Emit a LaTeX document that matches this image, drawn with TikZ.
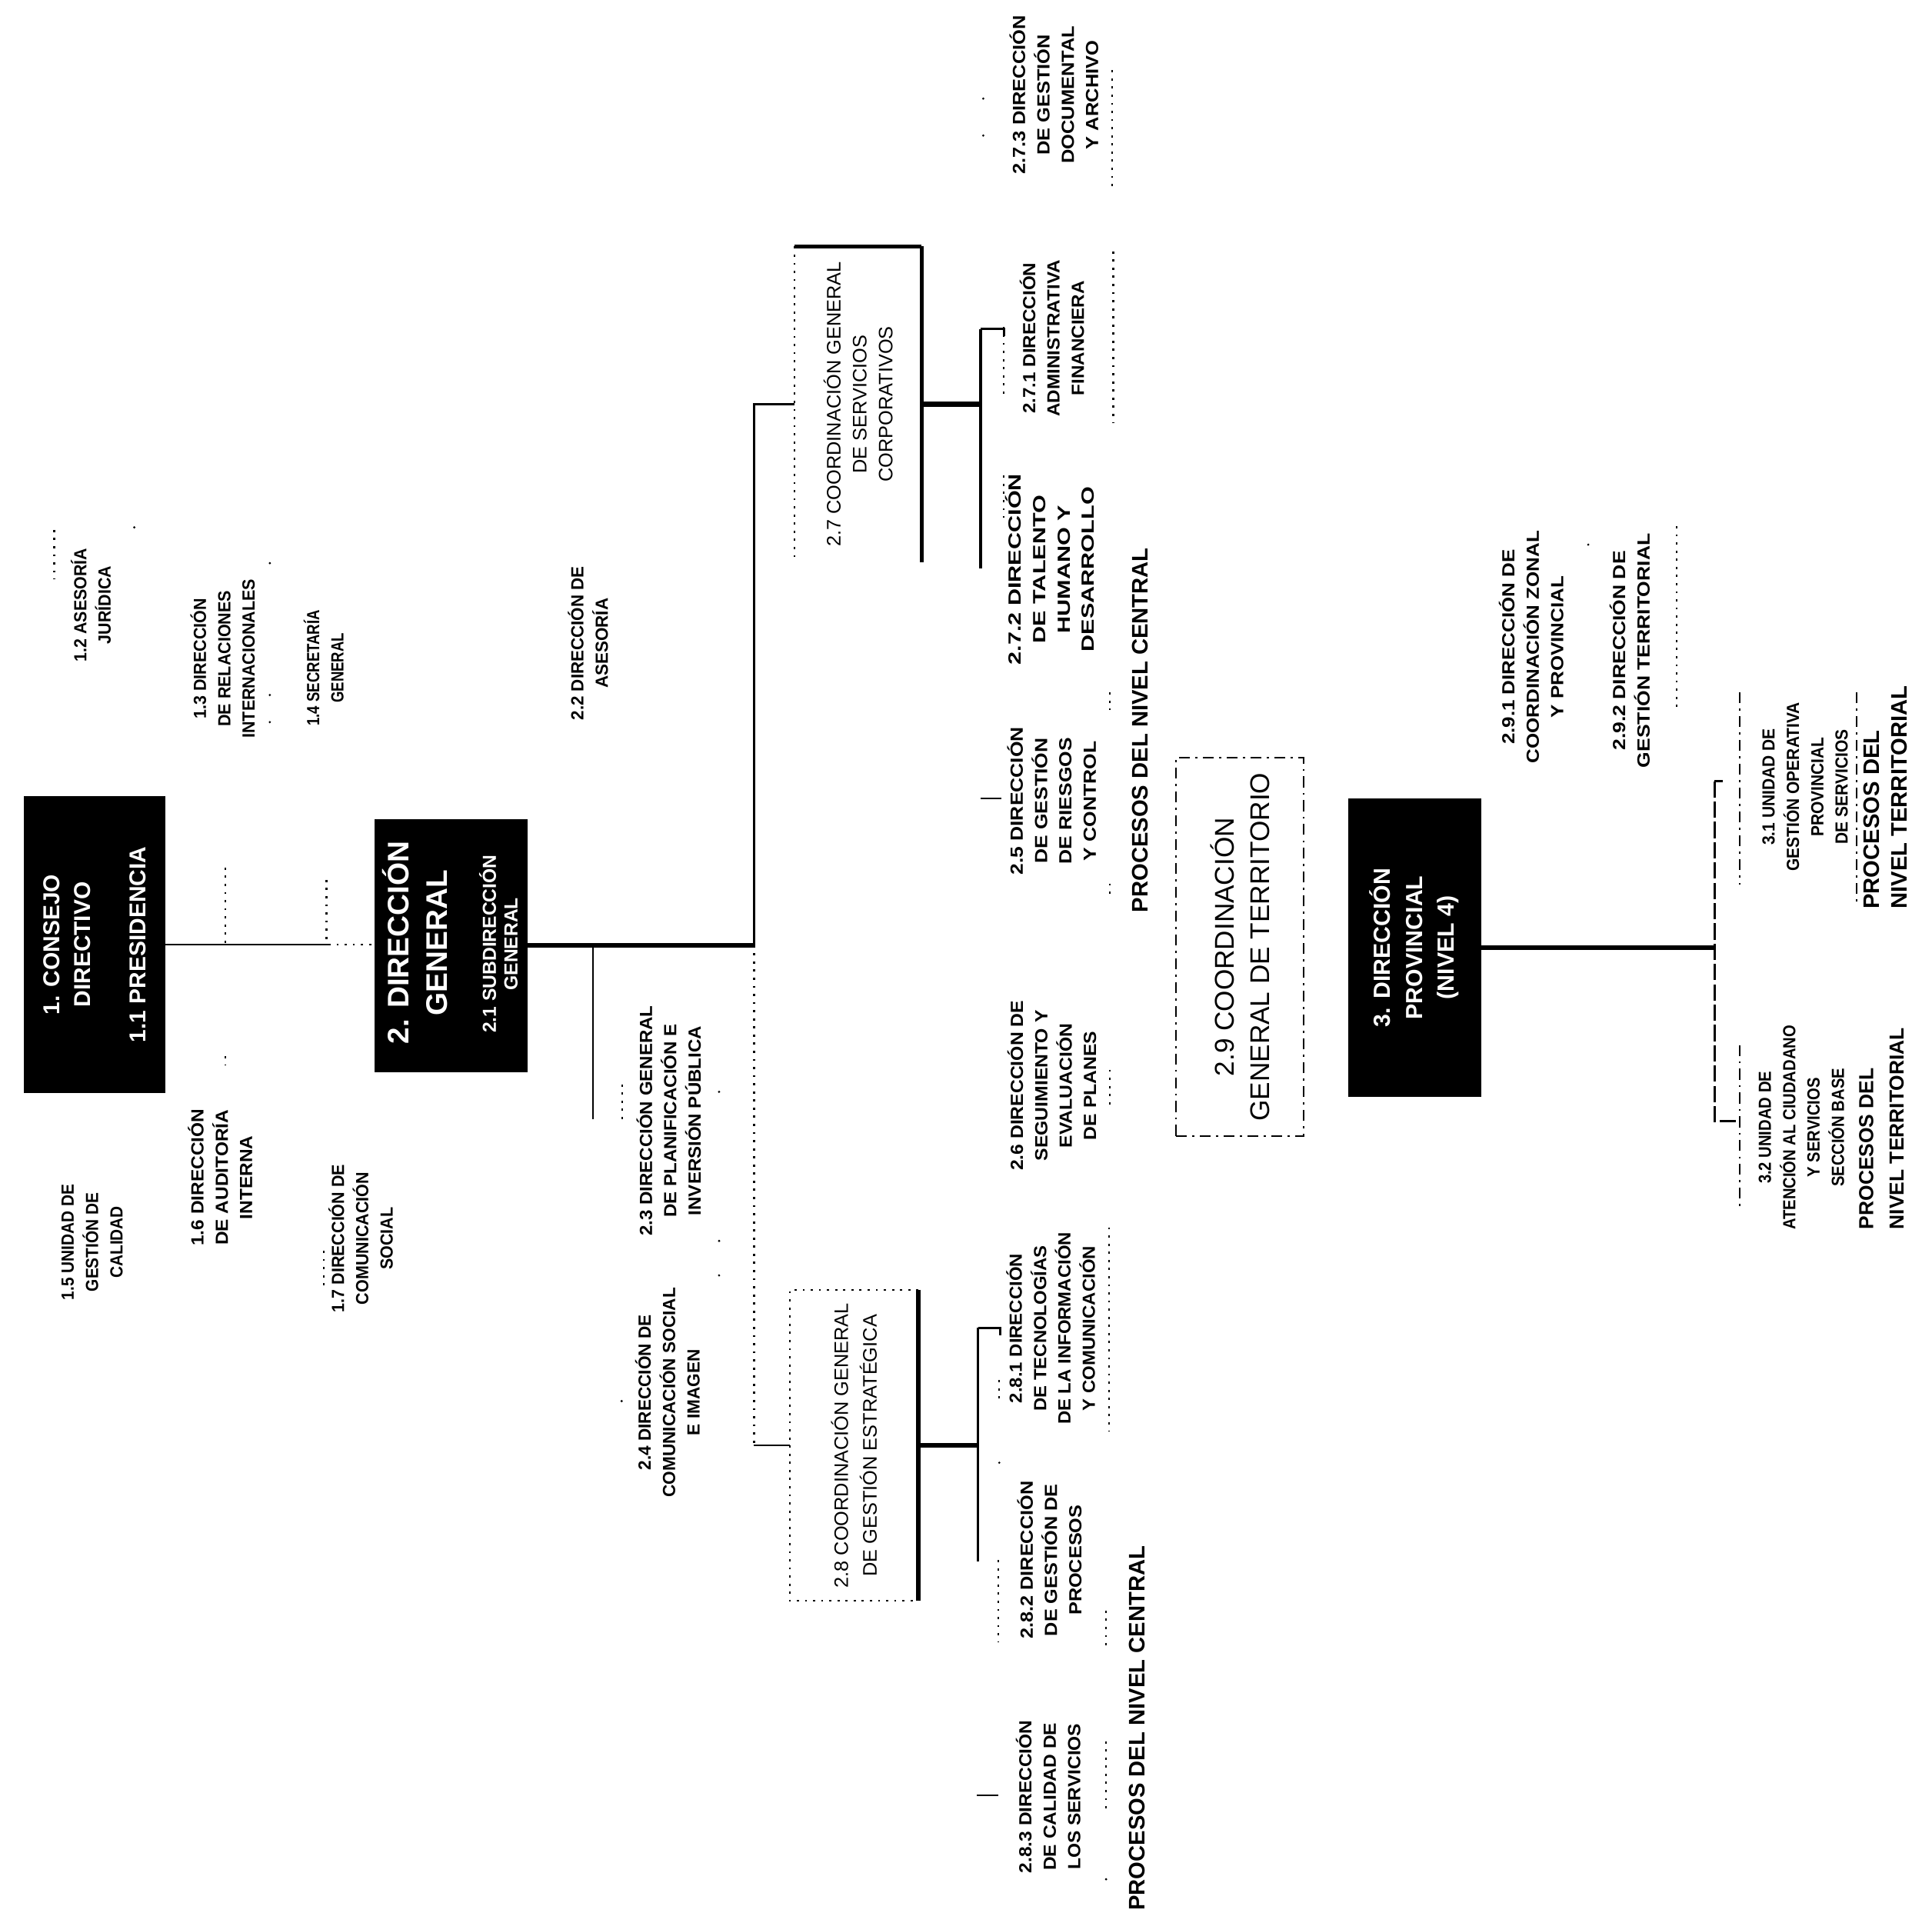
\documentclass[tikz,border=0pt]{standalone}
\usepackage{fontspec}
\setmainfont{Liberation Sans}
\usepackage{graphicx}
\newlength\pxu
\setlength\pxu{0.16mm}
\newcommand\sq[2]{\resizebox{#1\pxu}{\height}{\begin{tabular}{@{}c@{}}#2\end{tabular}}}
\begin{document}
\begin{tikzpicture}[x=0.16mm,y=-0.16mm,
  blackbox/.style={fill=black,draw=none,inner sep=0pt,outer sep=0pt},
  plainbox/.style={draw=none,inner sep=0pt,outer sep=0pt},
  whitelab/.style={rotate=90,align=center,text=white,inner sep=0pt},
  lab/.style={rotate=90,align=center,inner sep=0pt},
  grp/.style={rotate=90,inner sep=0pt,font=\fontsize{6.5}{9}\selectfont\bfseries},
  proc/.style={rotate=90,inner sep=0pt,align=left,font=\fontsize{8.3}{10.2}\selectfont\bfseries},
  link/.style={line width=0.8pt},
  heavy/.style={line width=1.6pt},
  thinln/.style={line width=0.6pt},
  dotln/.style={line width=0.6pt,dash pattern=on 0.8pt off 2.2pt},
  dashdotln/.style={line width=0.6pt,dash pattern=on 4pt off 2pt on 0.8pt off 2pt},
  longdash/.style={line width=0.8pt,dash pattern=on 6pt off 1.5pt},
]
\fill[white] (0,0) rectangle (1568,1552.4);
\useasboundingbox (0,0) rectangle (1568,1552.4);

% ---------- main boxes ----------
\node[blackbox,minimum width=114.5\pxu,minimum height=241\pxu] (b1) at (76.75,766.5) {};
\node[whitelab,font=\fontsize{8.5}{11.4}\selectfont\bfseries] (b1t) at (b1.center)
  {1. CONSEJO\\DIRECTIVO\\[9pt]1.1 PRESIDENCIA};

\node[blackbox,minimum width=124.5\pxu,minimum height=205\pxu] (b2) at (366.25,767.5) {};
\node[whitelab,font=\fontsize{11}{14.3}\selectfont\bfseries] (b2t) at (336.75,765) {2. DIRECCIÓN\\GENERAL};
\node[whitelab,font=\fontsize{7}{8}\selectfont\bfseries] (b2s) at (404.5,766) {2.1 SUBDIRECCIÓN\\GENERAL};

\node[plainbox,minimum width=103\pxu,minimum height=256\pxu] (ub) at (696.5,328) {};
\node[lab,font=\fontsize{7.2}{9.6}\selectfont] (ubt) at (ub.center)
  {2.7 COORDINACIÓN GENERAL\\DE SERVICIOS\\CORPORATIVOS};

\node[plainbox,minimum width=104.6\pxu,minimum height=252\pxu] (lb) at (693.1,1173) {};
\node[lab,font=\fontsize{7.2}{10.6}\selectfont] (lbt) at (lb.center)
  {2.8 COORDINACIÓN GENERAL\\DE GESTIÓN ESTRATÉGICA};

\node[plainbox,draw,dashdotln,minimum width=103.5\pxu,minimum height=307\pxu] (b29) at (1006.25,768.5) {};
\node[lab,font=\fontsize{10}{13}\selectfont] (b29t) at (b29.center)
  {2.9 COORDINACIÓN\\GENERAL DE TERRITORIO};

\node[blackbox,minimum width=108\pxu,minimum height=242\pxu] (b3) at (1148,769) {};
\node[whitelab,font=\fontsize{8.6}{11.8}\selectfont\bfseries] (b3t) at (b3.center)
  {3. DIRECCIÓN\\PROVINCIAL\\(NIVEL 4)};

% ---------- box edges ----------
\draw[line width=1.2pt] (ub.north west) -- (ub.north east);
\draw[heavy] (ub.north east) -- (ub.south east);
\draw[dotln] (ub.north west) -- (ub.south west);
\draw[dotln] (lb.north east) -- (lb.north west) -- (lb.south west) -- (lb.south east);
\draw[heavy] (lb.north east) -- (lb.south east);

% ---------- connectors ----------
\coordinate (c12) at (266.5,766.5);
\draw[link] (b1.east) -- (c12);
\draw[dotln] (c12) -- (b2.west |- c12);
\coordinate (j1) at (612,767);
\draw[heavy] (b2.east |- j1) -- (j1);
\draw[thinln] (j1) -- (j1 |- ub.west) -- (ub.west);
\draw[dotln] (j1) -- (j1 |- lb.west);
\draw[thinln] (j1 |- lb.west) -- (lb.west);
\coordinate (k2) at (481,908);
\draw[thinln] (k2 |- j1) -- (k2);

\coordinate (ubk) at (796,328);
\coordinate (ubtop) at (796,267);
\coordinate (ubbot) at (796,461);
\draw[line width=2pt] (ub.east) -- (ubk);
\draw[line width=1.1pt] (ubtop) -- (ubbot);
\draw[link] (ubtop) -- ++(19,0) -- ++(0,6);

\coordinate (lbk) at (793.7,1173);
\coordinate (lbtop) at (793.7,1077.5);
\coordinate (lbbot) at (793.7,1267);
\draw[line width=1.8pt] (lb.east) -- (lbk);
\draw[line width=1.1pt] (lbtop) -- (lbbot);
\draw[link] (lbtop) -- ++(18,0) -- ++(0,6);

\coordinate (r1) at (1391.5,769);
\coordinate (rtop) at (1391.5,634);
\coordinate (rbot) at (1391.5,910);
\draw[heavy] (b3.east |- r1) -- (r1);
\draw[longdash] (rtop) -- (rbot) -- ++(19,0);
\draw[link] (rtop) -- ++(7,0);

% ---------- small unit groups ----------
\node[grp] (g1) at (76,491) {\sq{92}{1.2 ASESORÍA\\JURÍDICA}};
\node[grp] (g2) at (183,534.5) {\sq{129}{1.3 DIRECCIÓN\\DE RELACIONES\\INTERNACIONALES}};
\node[grp] (g3) at (265,542) {\sq{94}{1.4 SECRETARÍA\\GENERAL}};
\node[grp] (g4) at (75.7,1008) {\sq{94}{1.5 UNIDAD DE\\GESTIÓN DE\\CALIDAD}};
\node[grp] (g5) at (181,955.5) {\sq{111}{1.6 DIRECCIÓN\\DE AUDITORÍA\\INTERNA}};
\node[grp] (g6) at (295,1005) {\sq{120}{1.7 DIRECCIÓN DE\\COMUNICACIÓN\\SOCIAL}};
\node[grp] (g7) at (479.5,522) {\sq{125}{2.2 DIRECCIÓN DE\\ASESORÍA}};
\node[grp] (g8) at (545,909.5) {\sq{187}{2.3 DIRECCIÓN GENERAL\\DE PLANIFICACIÓN E\\INVERSIÓN PÚBLICA}};
\node[grp] (g9) at (544,1130) {\sq{170}{2.4 DIRECCIÓN DE\\COMUNICACIÓN SOCIAL\\E IMAGEN}};
\node[grp] (g10) at (857.7,77) {\sq{129}{2.7.3 DIRECCIÓN\\DE GESTIÓN\\DOCUMENTAL\\Y ARCHIVO}};
\node[grp] (g11) at (856,274.5) {\sq{127}{2.7.1 DIRECCIÓN\\ADMINISTRATIVA\\FINANCIERA}};
\node[grp] (g12) at (854.6,462) {\sq{155}{2.7.2 DIRECCIÓN\\DE TALENTO\\HUMANO Y\\DESARROLLO}};
\node[grp] (g13) at (855.8,650) {\sq{120}{2.5 DIRECCIÓN\\DE GESTIÓN\\DE RIESGOS\\Y CONTROL}};
\node[grp] (g14) at (856,881) {\sq{138}{2.6 DIRECCIÓN DE\\SEGUIMIENTO Y\\EVALUACIÓN\\DE PLANES}};
\node[grp] (g15) at (855,1078) {\sq{156}{2.8.1 DIRECCIÓN\\DE TECNOLOGÍAS\\DE LA INFORMACIÓN\\Y COMUNICACIÓN}};
\node[grp] (g16) at (854,1266) {\sq{128}{2.8.2 DIRECCIÓN\\DE GESTIÓN DE\\PROCESOS}};
\node[grp] (g17) at (853,1458) {\sq{124}{2.8.3 DIRECCIÓN\\DE CALIDAD DE\\LOS SERVICIOS}};
\node[grp] (g18) at (1245,525) {\sq{189}{2.9.1 DIRECCIÓN DE\\COORDINACIÓN ZONAL\\Y PROVINCIAL}};
\node[grp] (g19) at (1325,528) {\sq{190}{2.9.2 DIRECCIÓN DE\\GESTIÓN TERRITORIAL}};
\node[grp] (g20) at (1466,638.5) {\sq{137}{3.1 UNIDAD DE\\GESTIÓN OPERATIVA\\PROVINCIAL\\DE SERVICIOS}};
\node[grp] (g21) at (1463,915) {\sq{166}{3.2 UNIDAD DE\\ATENCIÓN AL CIUDADANO\\Y SERVICIOS\\SECCIÓN BASE}};

% ---------- process labels ----------
\node[proc] (p1) at (925.5,592.5) {PROCESOS DEL NIVEL CENTRAL};
\node[proc] (p2) at (922.7,1402.5) {PROCESOS DEL NIVEL CENTRAL};
\node[proc,anchor=west] (p3) at (1530,738) {PROCESOS DEL\\NIVEL TERRITORIAL};
\node[proc,anchor=west,font=\fontsize{7.5}{11.2}\selectfont\bfseries] (p4) at (1527,998) {PROCESOS DEL\\NIVEL TERRITORIAL};

% ---------- dotted guide marks ----------
\draw[dotln] (44,430) -- (44,470);
\draw[dotln] (183,704) -- (183,765);
\draw[dotln] (183,857) -- (183,864);
\draw[dotln] (265,714) -- (265,765);
\draw[dotln] (263,1015) -- (263,1045);
\draw[dotln] (505,880) -- (505,909);
\draw[dotln] (814.6,265) -- (814.6,323);
\draw[dotln] (814.6,386) -- (814.6,420);
\draw[dotln] (903.5,204) -- (903.5,343);
\draw[dotln] (902.7,57) -- (902.7,153);
\draw[dotln] (900.9,562) -- (900.9,576);
\draw[dotln] (900.9,717) -- (900.9,729);
\draw[dotln] (900.9,868) -- (900.9,900);
\draw[dotln] (900,996) -- (900,1161);
\draw[dotln] (897.7,1307) -- (897.7,1339);
\draw[dotln] (897.7,1413) -- (897.7,1469);
\draw[dotln] (811,1120) -- (811,1139);
\draw[dotln] (810.4,1266) -- (810.4,1332);
\draw[dotln] (1361,427) -- (1361,578);
\draw[dashdotln] (1412,562) -- (1412,718);
\draw[dashdotln] (1412,848) -- (1412,982);
\draw[dashdotln] (1507,562) -- (1507,735);
\draw[thinln] (796,648) -- (813,648);
\draw[thinln] (793,1457) -- (810,1457);
\foreach \p in {(219,457),(219,564),(219,586),(583.6,886),(583.6,1007),(583.6,1035),(798,80),(798,110),(897.7,1525),(811,1187),(1289,442),(109,428),(504.5,1137)}
  \fill \p circle (0.45pt);
\end{tikzpicture}
\end{document}
